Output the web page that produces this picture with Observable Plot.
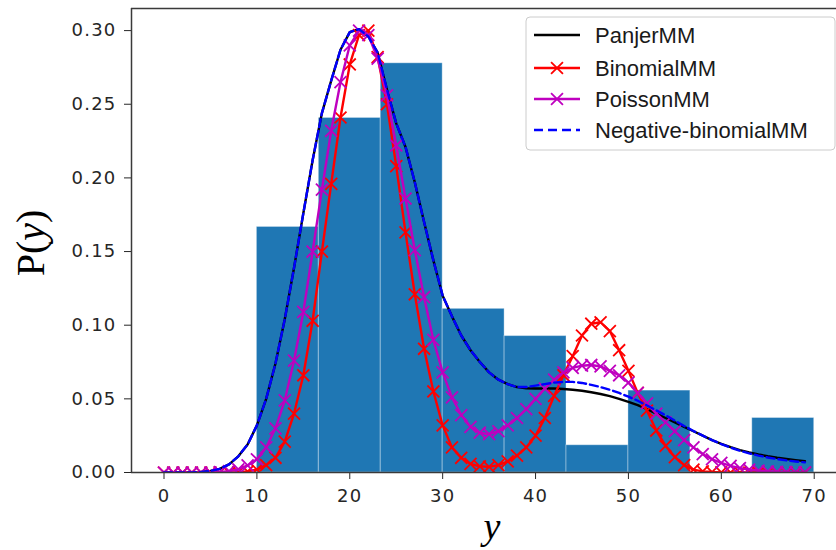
<!DOCTYPE html>
<html><head><meta charset="utf-8">
<script src="https://cdn.jsdelivr.net/npm/d3@7"></script>
<script src="https://cdn.jsdelivr.net/npm/@observablehq/plot@0.6"></script>
<style>
body{margin:0;background:#fff;}
#chart{position:relative;width:836px;height:550px;}
#chart svg [aria-label$="tick label"] text{letter-spacing:1.2px;}
</style></head><body><div id="chart"></div>
<script>
// ---- data ----
const yValues = [0,1,2,3,4,5,6,7,8,9,10,11,12,13,14,15,16,17,18,19,20,21,22,23,24,25,26,27,28,29,30,31,32,33,34,35,36,37,38,39,40,41,42,43,44,45,46,47,48,49,50,51,52,53,54,55,56,57,58,59,60,61,62,63,64,65,66,67,68,69];
const panjerMM = [0,0,0,0.0001,0.0003,0.001,0.0025,0.0055,0.011,0.019,0.032,0.050,0.074,0.104,0.139,0.176,0.212,0.244,0.266,0.287,0.299,0.301,0.296,0.285,0.260,0.237,0.221,0.197,0.170,0.144,0.120,0.106,0.093,0.083,0.075,0.068,0.063,0.060,0.058,0.0572,0.057,0.057,0.057,0.0567,0.0562,0.0555,0.0545,0.0533,0.0518,0.050,0.048,0.0458,0.043,0.040,0.037,0.034,0.031,0.028,0.025,0.022,0.0195,0.0172,0.0152,0.0136,0.0122,0.011,0.010,0.0092,0.0084,0.0077];
const binomialMM = [0,0,0,0,0,0,0,0,0.0002,0.0007,0.002,0.005,0.010,0.021,0.040,0.066,0.103,0.150,0.196,0.241,0.277,0.297,0.300,0.282,0.250,0.208,0.163,0.121,0.084,0.055,0.032,0.017,0.010,0.0058,0.0042,0.0038,0.005,0.0075,0.0115,0.017,0.025,0.037,0.052,0.066,0.079,0.093,0.101,0.102,0.096,0.083,0.069,0.054,0.042,0.0285,0.018,0.0105,0.005,0.002,0.0008,0.0003,0.0001,0,0,0,0,0,0,0,0,0];
const poissonMM = [0,0,0,0,0,0,0.0003,0.0009,0.0022,0.0048,0.009,0.017,0.030,0.049,0.076,0.109,0.150,0.192,0.232,0.265,0.290,0.300,0.297,0.281,0.256,0.222,0.186,0.151,0.119,0.090,0.068,0.051,0.039,0.031,0.027,0.026,0.028,0.032,0.037,0.043,0.050,0.057,0.063,0.068,0.071,0.0725,0.073,0.072,0.069,0.066,0.061,0.054,0.047,0.040,0.034,0.028,0.022,0.017,0.0125,0.009,0.0065,0.0045,0.003,0.002,0.0013,0.0008,0.0005,0.0003,0.0002,0.0001];
const negBinomialMM = [0,0,0,0.0001,0.0003,0.001,0.0025,0.0055,0.011,0.019,0.032,0.050,0.074,0.104,0.139,0.176,0.212,0.244,0.266,0.287,0.299,0.301,0.296,0.285,0.260,0.237,0.221,0.197,0.170,0.144,0.120,0.106,0.093,0.083,0.075,0.068,0.063,0.060,0.058,0.058,0.059,0.060,0.061,0.0615,0.0615,0.0608,0.0595,0.058,0.0562,0.054,0.0515,0.0487,0.0455,0.0422,0.0388,0.0352,0.0316,0.0282,0.025,0.022,0.0193,0.0169,0.0148,0.013,0.0115,0.0102,0.0091,0.0082,0.0075,0.0069];
const binEdges = [10, 16.667, 23.333, 30, 36.667, 43.333, 50, 56.667, 63.333, 70];
const binProb = [0.1667, 0.2407, 0.2778, 0.1111, 0.0926, 0.0185, 0.0556, 0, 0.0370];
const xTicks = [0, 10, 20, 30, 40, 50, 60, 70];
const pTicks = [0, 0.05, 0.10, 0.15, 0.20, 0.25, 0.30];
const seriesNames = ["PanjerMM", "BinomialMM", "PoissonMM", "Negative-binomialMM"];
const seriesColors = ["#000000", "#ff0000", "#bf00bf", "#0000ff"];
const xDomain = [-3.5, 72.4];
const yDomain = [0, 0.315];

// ---- tables ----
const bins = binProb.map((p, i) => ({x1: binEdges[i], x2: binEdges[i + 1], p}));
const toRows = (vals) => yValues.map((y, i) => ({y, p: vals[i]}));
const panjer = toRows(panjerMM), binom = toRows(binomialMM), pois = toRows(poissonMM), nb = toRows(negBinomialMM);

const spine = "#3a3a3a";
const chart = Plot.plot({
  width: 836, height: 550,
  marginLeft: 131, marginRight: 0, marginTop: 8, marginBottom: 78,
  style: {fontFamily: "'DejaVu Sans', sans-serif", fontSize: "18px", color: "#262626", background: "#ffffff"},
  x: {domain: xDomain, ticks: xTicks, tickSize: 7, tickPadding: 10, label: null},
  y: {domain: yDomain, ticks: pTicks, tickSize: 7, tickPadding: 8, tickFormat: d3.format(".2f"), label: null},
  marks: [
    Plot.rectY(bins, {x1: "x1", x2: "x2", y: "p", fill: "#1f77b4", stroke: "#ffffff", strokeOpacity: 0.35, strokeWidth: 1}),
    Plot.line(panjer, {x: "y", y: "p", stroke: seriesColors[0], strokeWidth: 2.4, clip: true}),
    Plot.line(binom, {x: "y", y: "p", stroke: seriesColors[1], strokeWidth: 2.4, clip: true}),
    Plot.dot(binom, {x: "y", y: "p", symbol: "times", r: 5.5, stroke: seriesColors[1], strokeWidth: 1.8, clip: true}),
    Plot.line(pois, {x: "y", y: "p", stroke: seriesColors[2], strokeWidth: 2.4, clip: true}),
    Plot.dot(pois, {x: "y", y: "p", symbol: "times", r: 5.5, stroke: seriesColors[2], strokeWidth: 1.8, clip: true}),
    Plot.line(nb, {x: "y", y: "p", stroke: seriesColors[3], strokeWidth: 2.4, strokeDasharray: "8,4", clip: true}),
    Plot.ruleX([xDomain[0]], {stroke: spine, strokeWidth: 1.5}),
    Plot.ruleY([yDomain[0]], {stroke: spine, strokeWidth: 1.5}),
    Plot.ruleY([yDomain[1]], {stroke: spine, strokeWidth: 1.5})
  ]
});
document.getElementById("chart").appendChild(chart);

const svg = d3.select(chart);

// axis titles
const ylab = svg.append("text")
  .attr("transform", "translate(44,243) rotate(-90)")
  .attr("text-anchor", "middle")
  .style("font-family", "'Liberation Serif','DejaVu Serif',serif")
  .style("font-size", "40px").attr("fill", "#000");
ylab.append("tspan").text("P(");
ylab.append("tspan").style("font-style", "italic").text("y");
ylab.append("tspan").text(")");
svg.append("text").attr("x", 492).attr("y", 539).attr("text-anchor", "middle")
  .style("font-family", "'Liberation Serif','DejaVu Serif',serif")
  .style("font-style", "italic").style("font-size", "38px").attr("fill", "#000").text("y");

// legend
const lg = svg.append("g").attr("text-anchor", "start");
lg.append("rect").attr("x", 526).attr("y", 17).attr("width", 309).attr("height", 133).attr("rx", 4)
  .attr("fill", "#fff").attr("fill-opacity", 0.85).attr("stroke", "#cccccc");
const rowsY = [35, 68, 99, 130];
seriesNames.forEach((name, i) => {
  const yy = rowsY[i];
  lg.append("line").attr("x1", 534).attr("x2", 580).attr("y1", yy).attr("y2", yy)
    .attr("stroke", seriesColors[i]).attr("stroke-width", 2.6)
    .attr("stroke-dasharray", i === 3 ? "9,5" : null);
  if (i === 1 || i === 2) {
    lg.append("path").attr("d", d3.symbol(d3.symbolTimes, Math.PI * 30)())
      .attr("transform", `translate(557,${yy})`).attr("fill", "none")
      .attr("stroke", seriesColors[i]).attr("stroke-width", 1.8);
  }
  lg.append("text").attr("x", 595).attr("y", yy).attr("dy", "0.36em")
    .attr("text-anchor", "start")
    .style("font-family", "'Liberation Sans', Arial, sans-serif").style("font-size", "22px")
    .attr("fill", "#1a1a1a").text(name);
});
</script></body></html>
